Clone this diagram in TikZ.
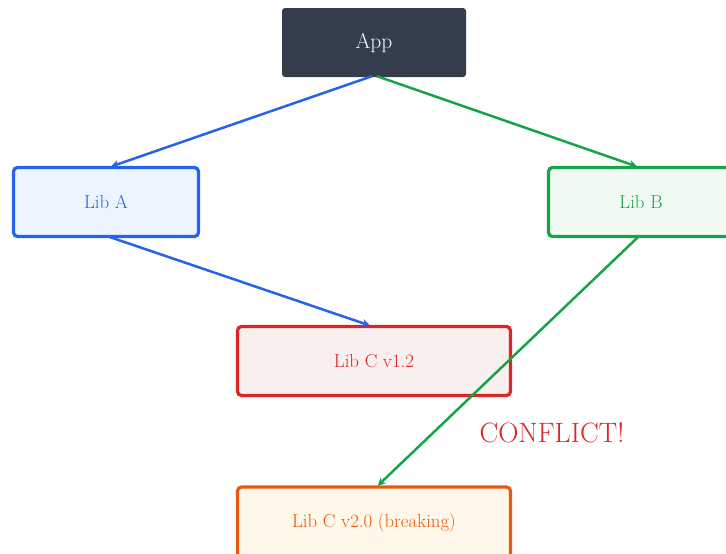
\documentclass[tikz,border=0pt]{standalone}
\usetikzlibrary{arrows.meta}
\definecolor{appfill}{HTML}{343D4B}
\definecolor{apptext}{HTML}{F8FAFC}
\definecolor{cblue}{HTML}{2563EB}
\definecolor{bluefill}{HTML}{EBF4FF}
\definecolor{cgreen}{HTML}{16A34A}
\definecolor{greenfill}{HTML}{F0FAF2}
\definecolor{cred}{HTML}{DC2626}
\definecolor{redfill}{HTML}{F9EFEF}
\definecolor{corange}{HTML}{EA580C}
\definecolor{orangefill}{HTML}{FFF8EA}
\tikzset{
  libbox/.style={draw, line width=3.2pt, rounded corners=4pt, minimum height=69pt, inner sep=0pt, font=\fontsize{18.8}{22}\selectfont},
  conn/.style={line width=2.5pt, -{Stealth[length=8pt,width=8pt]}, shorten >=1pt}
}
\begin{document}
\begin{tikzpicture}[x=1pt,y=-1pt]
\useasboundingbox (0,0) rectangle (726,554);
\clip (0,0) rectangle (726,554);
\node[fill=appfill, rounded corners=3pt, minimum width=184pt, minimum height=69pt, inner sep=0pt, text=apptext, font=\fontsize{21.5}{25}\selectfont] (app) at (374,42.5) {App};
\node[libbox, draw=cblue, fill=bluefill, text=cblue, minimum width=185pt] (liba) at (106,202) {Lib A};
\node[libbox, draw=cgreen, fill=greenfill, text=cgreen, minimum width=185pt] (libb) at (641,202) {Lib B};
\node[libbox, draw=cred, fill=redfill, text=cred, minimum width=273pt] (libc1) at (374,361) {Lib C v1.2};
\node[libbox, draw=corange, fill=orangefill, text=corange, minimum width=273pt, minimum height=72pt] (libc2) at (374,523) {Lib C v2.0 (breaking)};
\node[text=cred, font=\fontsize{28}{33}\selectfont, inner sep=0pt] (conflict) at (552,433) {CONFLICT!};
\draw[conn, cblue] ([xshift=-2pt,yshift=1pt]app.south) -- ([xshift=4pt,yshift=-1pt]liba.north);
\draw[conn, cgreen] ([xshift=3pt,yshift=1pt]app.south) -- ([xshift=-3pt,yshift=-1pt]libb.north);
\draw[conn, cblue] ([xshift=4pt,yshift=1pt]liba.south) -- ([xshift=-3pt,yshift=-1pt]libc1.north);
\draw[conn, cgreen] ([xshift=-3pt,yshift=1pt]libb.south) -- ([xshift=3pt,yshift=-1pt]libc2.north);
\end{tikzpicture}
\end{document}
